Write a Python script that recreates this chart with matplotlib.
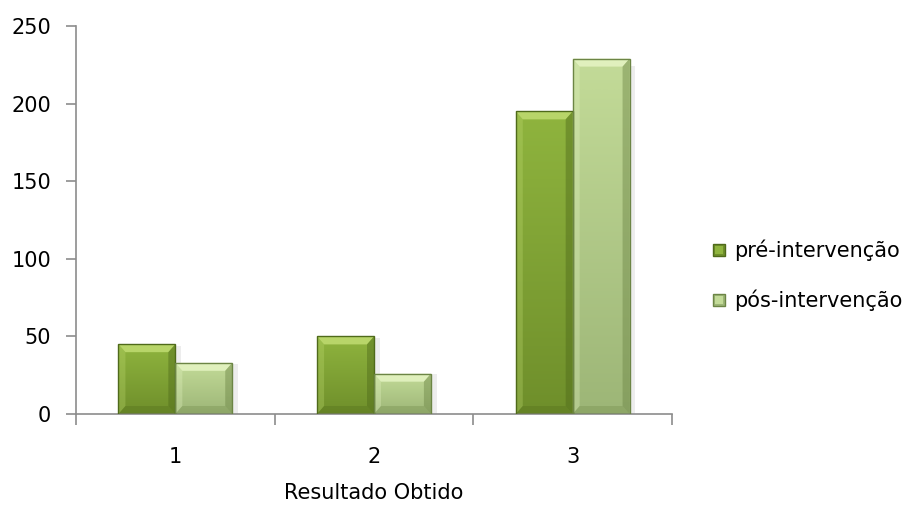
import numpy as np
import matplotlib.pyplot as plt
from matplotlib.patches import Polygon, Rectangle
from matplotlib.colors import LinearSegmentedColormap

plt.rcParams['font.family'] = ['DejaVu Sans']

categories = ['1', '2', '3']
pre = [45, 50, 195]
post = [33, 26, 229]
series_names = ['pré-intervenção', 'pós-intervenção']

# top of face, bottom of face, light bevel, dark bevel
PRE_COLORS = ('#8fb43e', '#6f8f2b', '#c0dc72', '#4f6a1a')
POST_COLORS = ('#c3db98', '#9db677', '#e6f5c4', '#6c8545')

W, H, DPI = 911, 514, 100
fig = plt.figure(figsize=(W / DPI, H / DPI), dpi=DPI)
ax = fig.add_axes([76 / W, 1 - 414 / H, (672 - 76) / W, (414 - 26) / H])

x = np.arange(1, len(categories) + 1)
bw = 57 / 199  # bar width in category units
ax.set_xlim(0.5, 3.5)
ax.set_ylim(0, 250)

# bevel size in data units (about 7 px)
bx = 7 * 3 / (672 - 76)
by = 8 * 250 / 388


def bevel_bar(x0, h, colors):
    c_top, c_bot, light, dark = colors
    x1 = x0 + bw
    # soft shadow on the right
    ax.add_patch(Rectangle((x1, 0), bx * 0.8, h * 0.98, color='#000000',
                           alpha=0.07, lw=0, zorder=1))
    bar = ax.bar(x0, h, bw, align='edge', color=c_top, lw=0, zorder=2)[0]
    cmap = LinearSegmentedColormap.from_list('g', [c_bot, c_top])
    grad = np.linspace(1, 0, 64).reshape(-1, 1)
    im = ax.imshow(grad, cmap=cmap, extent=(x0, x1, 0, h), aspect='auto',
                   zorder=2, interpolation='bicubic')
    im.set_clip_path(bar)
    b = min(by, h / 3)
    top = [(x0, h), (x1, h), (x1 - bx, h - b), (x0 + bx, h - b)]
    left = [(x0, 0), (x0, h), (x0 + bx, h - b), (x0 + bx, b)]
    right = [(x1, 0), (x1, h), (x1 - bx, h - b), (x1 - bx, b)]
    bottom = [(x0, 0), (x1, 0), (x1 - bx, b), (x0 + bx, b)]
    ax.add_patch(Polygon(top, closed=True, color=light, lw=0, zorder=3, alpha=0.85))
    ax.add_patch(Polygon(left, closed=True, color=light, lw=0, zorder=3, alpha=0.3))
    ax.add_patch(Polygon(right, closed=True, color=dark, lw=0, zorder=3, alpha=0.45))
    ax.add_patch(Polygon(bottom, closed=True, color=dark, lw=0, zorder=3, alpha=0.3))
    ax.add_patch(Rectangle((x0, 0), bw, h, fill=False, ec=dark, lw=1.0, zorder=4))


for xi, p, q in zip(x, pre, post):
    bevel_bar(xi - bw, p, PRE_COLORS)
    bevel_bar(xi, q, POST_COLORS)

for s in ['top', 'right']:
    ax.spines[s].set_visible(False)
for s in ['left', 'bottom']:
    ax.spines[s].set_color('#8c8c8c')
    ax.spines[s].set_linewidth(1.2)

ax.set_yticks(np.arange(0, 251, 50))
ax.tick_params(axis='y', direction='out', length=7, color='#8c8c8c',
               width=1.2, labelsize=15, pad=11)
ax.set_xticks(x)
ax.set_xticklabels(categories)
ax.set_xticks(np.arange(0.5, len(categories) + 1, 1), minor=True)
ax.tick_params(axis='x', which='major', length=0, labelsize=15, pad=24)
ax.tick_params(axis='x', which='minor', direction='out', length=8,
               color='#8c8c8c', width=1.2)
ax.set_xlabel('Resultado Obtido', fontsize=15, labelpad=11)

# legend with small bevelled swatches
for i, (name, colors) in enumerate(zip(series_names, [PRE_COLORS, POST_COLORS])):
    yf = 1 - (250 + 50 * i) / H
    fig.patches.append(Rectangle((713 / W, yf - 6 / H), 12 / W, 12 / H,
                                 transform=fig.transFigure, fc=colors[1],
                                 ec=colors[3], lw=1.0))
    fig.patches.append(Rectangle((715 / W, yf - 4 / H), 8 / W, 8 / H,
                                 transform=fig.transFigure, fc=colors[0],
                                 lw=0))
    fig.text(734 / W, yf, name, fontsize=15, va='center', ha='left')

plt.savefig('out.png', dpi=DPI)
